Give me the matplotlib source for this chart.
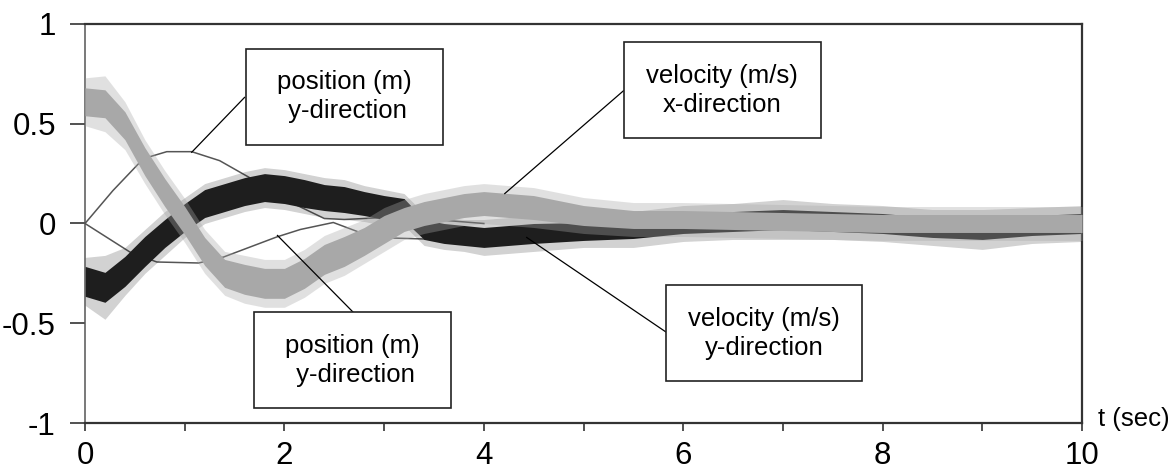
import matplotlib.pyplot as plt
from matplotlib.patches import Rectangle

plt.rcParams['font.family'] = ['Liberation Sans', 'DejaVu Sans']

# noisy velocity traces: centre of the band, half width of the solid core and
# how far the spikes reach from the centre
t = [0, 0.2, 0.4, 0.6, 0.8, 1.0, 1.2, 1.4, 1.6, 1.8, 2.0, 2.2, 2.4, 2.6, 2.8, 3.0,
     3.2, 3.4, 3.6, 3.8, 4.0, 4.5, 5.0, 5.5, 6.0, 6.5, 7.0, 7.5, 8.0, 8.5, 9.0, 9.5, 10.0]

vx_mid = [0.61, 0.60, 0.49, 0.31, 0.155, 0.015, -0.14, -0.25, -0.28, -0.30, -0.30, -0.25, -0.18,
          -0.14, -0.09, -0.03, 0.02, 0.05, 0.07, 0.09, 0.10, 0.08, 0.04, 0.02, 0.02, 0.015,
          0.01, 0.005, 0.0, 0.0, 0.0, 0.0, 0.0]
vx_spread = [0.07, 0.07, 0.07, 0.07, 0.07, 0.07, 0.07, 0.07, 0.075, 0.075, 0.075, 0.075, 0.075,
             0.075, 0.07, 0.07, 0.06, 0.06, 0.06, 0.06, 0.06, 0.06, 0.05, 0.045, 0.045, 0.045,
             0.045, 0.045, 0.045, 0.045, 0.045, 0.045, 0.045]
vx_reach = [0.12, 0.14, 0.12, 0.11, 0.11, 0.11, 0.11, 0.11, 0.12, 0.12, 0.12, 0.12, 0.12,
            0.12, 0.11, 0.11, 0.10, 0.10, 0.10, 0.10, 0.10, 0.10, 0.09, 0.085, 0.085, 0.085,
            0.085, 0.085, 0.085, 0.085, 0.085, 0.085, 0.085]

vy_mid = [-0.29, -0.32, -0.24, -0.14, -0.05, 0.03, 0.10, 0.13, 0.16, 0.18, 0.17, 0.15, 0.13,
          0.12, 0.10, 0.08, 0.07, -0.03, -0.05, -0.06, -0.07, -0.05, -0.04, -0.03, 0.0, 0.01,
          0.02, 0.01, 0.0, -0.02, -0.03, -0.01, 0.0]
vy_spread = [0.075, 0.075, 0.075, 0.075, 0.07, 0.07, 0.07, 0.07, 0.07, 0.07, 0.07, 0.07, 0.065,
             0.065, 0.06, 0.06, 0.055, 0.05, 0.05, 0.05, 0.05, 0.05, 0.045, 0.045, 0.05, 0.05,
             0.05, 0.05, 0.05, 0.05, 0.05, 0.05, 0.05]
vy_reach = [0.12, 0.16, 0.12, 0.11, 0.11, 0.10, 0.10, 0.10, 0.10, 0.10, 0.10, 0.10, 0.10,
            0.10, 0.09, 0.09, 0.08, 0.08, 0.08, 0.08, 0.09, 0.09, 0.08, 0.09, 0.09, 0.09,
            0.10, 0.09, 0.09, 0.09, 0.10, 0.09, 0.09]

# smooth position traces
pos_a_t = [0, 0.28, 0.585, 0.82, 1.07, 1.35, 1.65, 2.06, 2.4, 2.6, 3.0, 3.5, 4.0]
pos_a_y = [0, 0.165, 0.325, 0.36, 0.36, 0.315, 0.23, 0.107, 0.025, 0.02, 0.03, 0.02, 0.0]
pos_b_t = [0, 0.45, 0.72, 1.14, 1.39, 1.92, 2.16, 2.49, 2.89, 3.9, 4.5, 5.0]
pos_b_y = [0, -0.143, -0.193, -0.198, -0.168, -0.068, -0.03, 0.005, -0.07, -0.085, -0.04, 0.0]

# labels: text, box centre, leader line start on the box and end on the curve
labels = ['position (m)\n y-direction', 'velocity (m/s)\nx-direction',
          'position (m)\n y-direction', 'velocity (m/s)\ny-direction']
box_x = [2.60, 6.39, 2.68, 6.81]
box_y = [0.635, 0.668, -0.685, -0.55]
lead_from = [(1.60, 0.632), (5.40, 0.665), (2.69, -0.445), (5.83, -0.545)]
lead_to = [(1.07, 0.357), (4.21, 0.15), (1.93, -0.06), (4.43, -0.07)]

fig = plt.figure(figsize=(11.76, 4.73), dpi=100)
ax = fig.add_axes([0.0723, 0.1057, 0.8478, 0.8436])

lo = lambda m, s: [a - b for a, b in zip(m, s)]
hi = lambda m, s: [a + b for a, b in zip(m, s)]

ax.plot(pos_a_t, pos_a_y, color='#555555', lw=1.1, zorder=1)
ax.plot(pos_b_t, pos_b_y, color='#555555', lw=1.1, zorder=1)

# black trace (y velocity) under the gray one (x velocity); faint halo = spikes
ax.fill_between(t, lo(vy_mid, vy_reach), hi(vy_mid, vy_reach), color='#1e1e1e', alpha=0.2, lw=0, zorder=2)
ax.fill_between(t, lo(vy_mid, vy_spread), hi(vy_mid, vy_spread), color='#1e1e1e', lw=0, zorder=2)
ax.fill_between(t, lo(vx_mid, vx_reach), hi(vx_mid, vx_reach), color='#a8a8a8', alpha=0.35, lw=0, zorder=3)
ax.fill_between(t, lo(vx_mid, vx_spread), hi(vx_mid, vx_spread), color='#a8a8a8', lw=0, zorder=3)

bw, bh = 1.975, 0.48
for txt, cx, cy, p0, p1 in zip(labels, box_x, box_y, lead_from, lead_to):
    ax.plot([p0[0], p1[0]], [p0[1], p1[1]], color='black', lw=0.9, zorder=4)
    ax.add_patch(Rectangle((cx - bw / 2, cy - bh / 2), bw, bh, facecolor='white',
                           edgecolor='#222222', lw=1.2, zorder=5))
    ax.text(cx, cy, txt, ha='center', va='center', fontsize=18.5, linespacing=1.25, zorder=6)

ax.set_xlim(0, 10)
ax.set_ylim(-1, 1)
ax.set_xticks(range(11))
ax.set_xticklabels([str(i) if i % 2 == 0 else '' for i in range(11)])
ax.set_yticks([-1, -0.5, 0, 0.5, 1])
ax.set_yticklabels(['-1', '-0.5', '0', '0.5', '1'])
ax.tick_params(axis='y', direction='out', length=11, width=1.2, pad=10, labelsize=22.5, color='#333333')
ax.tick_params(axis='x', direction='out', length=6, width=1.2, pad=7, labelsize=22.5, color='#333333')

for side in ['top', 'bottom', 'right']:
    ax.spines[side].set_linewidth(1.6)
    ax.spines[side].set_color('#333333')
ax.spines['left'].set_linewidth(1.1)
ax.spines['left'].set_color('#555555')

ax.text(10.16, -1.015, 't (sec)', fontsize=18.5, ha='left', va='baseline', clip_on=False)

fig.savefig('out.png', dpi=100)
